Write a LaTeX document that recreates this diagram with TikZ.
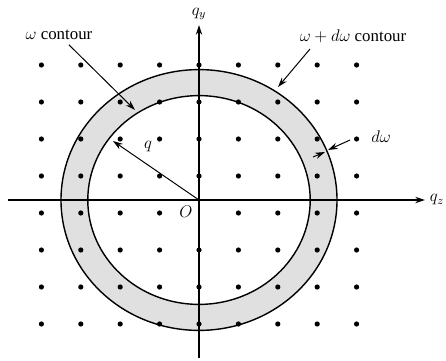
\documentclass[tikz,border=0pt]{standalone}
\usepackage{fontspec}
\setmainfont{Liberation Serif}
\usetikzlibrary{arrows.meta,calc}

\begin{document}
\begin{tikzpicture}[>={Stealth[length=7pt,width=4.5pt]},font=\fontsize{12}{14}\selectfont,
  axis/.style={line width=0.8pt},
  contour/.style={line width=1pt},
  pointer/.style={->,line width=0.7pt}]
  \useasboundingbox (-4.975,-4.0) rectangle (6.175,5.0);
  % shell between the two contours
  \fill[black!12,even odd rule] (0,0) ellipse (3.45 and 3.26) (0,0) ellipse (2.78 and 2.61);
  \draw[contour] (0,0) ellipse (3.45 and 3.26);
  \draw[contour] (0,0) ellipse (2.78 and 2.61);
  % lattice points (none at the origin label)
  \foreach \i in {-4,...,4}
    \foreach \j in {0,...,7}{
      \pgfmathtruncatemacro\hole{(\i==0)&&(\j==3)}
      \ifnum\hole=0 \fill ({0.985*\i},{-3.1+0.925*\j}) circle (0.065); \fi
    }
  % axes
  \coordinate (O) at (0,0);
  \coordinate (xa) at (-4.78,0);
  \coordinate (xb) at (5.65,0);
  \coordinate (ya) at (0,-3.95);
  \coordinate (yb) at (0,4.375);
  \draw[axis,->] (xa) -- (xb);
  \draw[axis,->] (ya) -- (yb);
  \node[right] (qz) at (xb) {$q_z$};
  \node[above] (qy) at (yb) {$q_y$};
  \node (o) at (-0.33,-0.3) {$O$};
  % radius q
  \coordinate (qtip) at (-2.15,1.475);
  \draw[pointer] (O) -- (qtip);
  \node (q) at (-1.275,1.325) {$q$};
  % contour labels
  \node (wc) at (-3.5,4.125) {$\omega$ contour};
  \coordinate (wctip) at (-1.6,2.25);
  \draw[pointer] (wc) -- (wctip);
  \node (wdc) at (3.85,4.1) {$\omega + d\omega$ contour};
  \coordinate (wdcs) at (2.775,3.775);
  \coordinate (wdctip) at (1.975,2.825);
  \draw[pointer] (wdcs) -- (wdctip);
  % shell width
  \node (dw) at (4.55,1.575) {$d\omega$};
  \coordinate (dwa) at (3.775,1.5);
  \coordinate (dwb) at (3.225,1.25);
  \coordinate (dwc) at (2.85,1.075);
  \coordinate (dwd) at (3.15,1.2);
  \draw[pointer] (dwa) -- (dwb);
  \draw[pointer] (dwc) -- (dwd);
\end{tikzpicture}
\end{document}
